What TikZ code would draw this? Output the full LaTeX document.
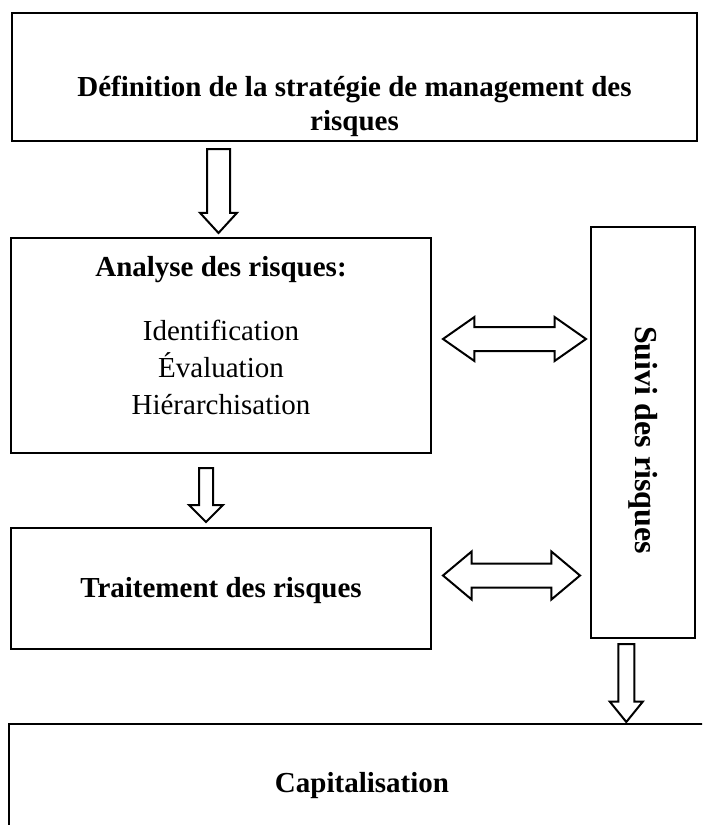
\documentclass[tikz,border=0pt]{standalone}
\usepackage{fontspec}
\setmainfont{Liberation Serif}
\usetikzlibrary{shapes.arrows}
\tikzset{
  box/.style={draw, line width=1.3pt, inner sep=0pt},
  txt/.style={inner sep=0pt, font=\fontsize{14.5}{16}\selectfont},
  btxt/.style={inner sep=0pt, font=\fontsize{14.5}{16}\selectfont\bfseries},
  fatarrow/.style={single arrow, draw, line width=1pt, inner xsep=0pt,
    minimum width=0pt, rotate=-90, anchor=tail},
  fatboth/.style={double arrow, draw, line width=1pt, inner xsep=0pt,
    minimum width=0pt}
}
\begin{document}
\begin{tikzpicture}[x=0.5pt, y=-0.5pt]
  \path[use as bounding box, clip] (0,0) rectangle (702,825);

  \node[box, minimum width=342.5pt, minimum height=64pt] (def) at (354.5,77) {};
  \node[btxt, align=center, anchor=north, font=\fontsize{14.5}{17}\selectfont\bfseries] (deftxt) at (354.5,76)
    {Définition de la stratégie de management des\\risques};

  \node[box, minimum width=210pt, minimum height=107.5pt] (ana) at (221,345.5) {};
  \node[txt, align=center, anchor=north, font=\fontsize{14.5}{18.5}\selectfont] (anatxt) at (221,256)
    {\textbf{Analyse des risques:}\\[13.5pt]Identification\\Évaluation\\Hiérarchisation};

  \node[box, minimum width=210pt, minimum height=60.5pt] (trt) at (221,588.5) {};
  \node[btxt] (trttxt) at (221,591) {Traitement des risques};

  \node[box, minimum width=52pt, minimum height=205.5pt] (suivi) at (643,432.5) {};
  \node[btxt, rotate=-90, font=\fontsize{16}{18}\selectfont\bfseries] (suivitxt) at (643,440) {Suivi des risques};

  \node[box, btxt, minimum width=353pt, minimum height=62pt] (cap) at (362,786) {Capitalisation};

  \node[fatarrow, minimum height=42pt, inner ysep=5.25pt, single arrow head extend=3.5pt,
    single arrow tip angle=85] (a1) at (218.5,148) {};
  \node[fatarrow, minimum height=27pt, inner ysep=3pt, single arrow head extend=5pt,
    single arrow tip angle=90] (a2) at (206,467) {};
  \node[fatarrow, minimum height=39pt, inner ysep=3.5pt, single arrow head extend=4.25pt,
    single arrow tip angle=78] (a3) at (626.3,643) {};

  \node[fatboth, minimum height=71.5pt, inner ysep=5.5pt, double arrow head extend=5pt,
    double arrow tip angle=70] (d1) at (514.5,339) {};
  \node[fatboth, minimum height=68.5pt, inner ysep=5.5pt, double arrow head extend=6pt,
    double arrow tip angle=80] (d2) at (511.5,575.5) {};
\end{tikzpicture}
\end{document}
